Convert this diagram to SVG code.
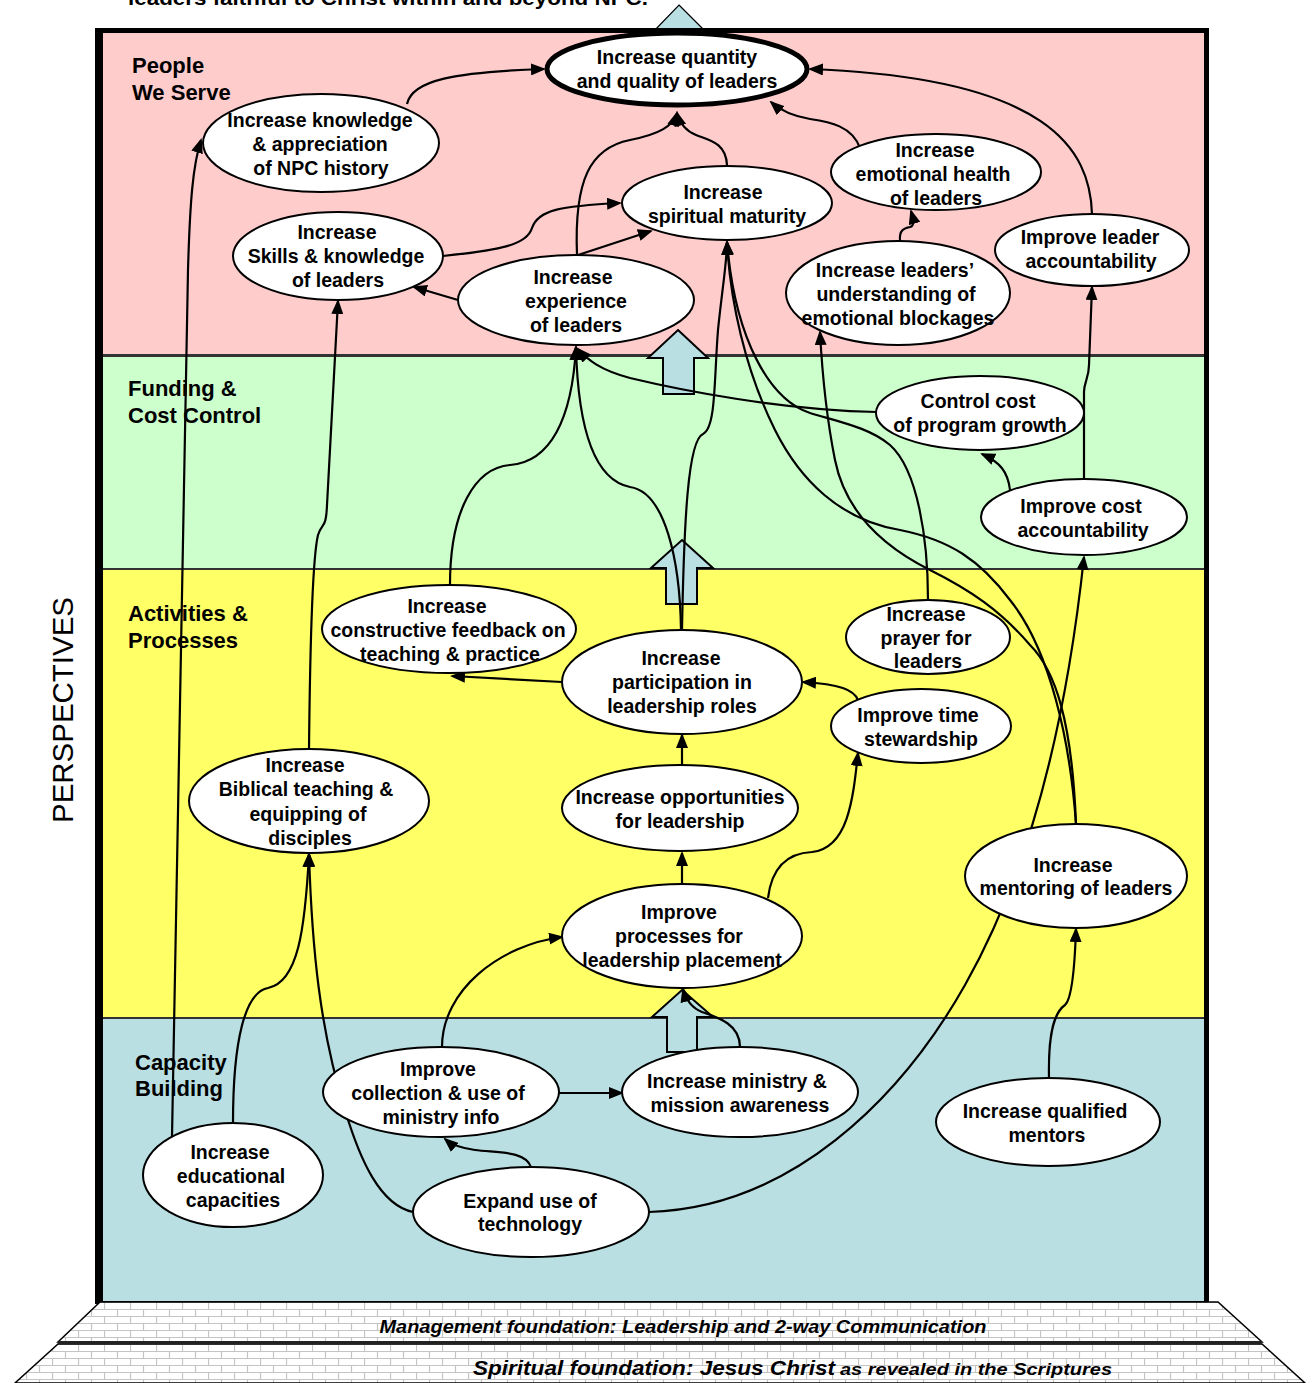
<svg xmlns="http://www.w3.org/2000/svg" width="1316" height="1383" viewBox="0 0 1316 1383">
<style>
.n ellipse{fill:#fff;stroke:#000;stroke-width:2}
.n text,.t{font-family:"Liberation Sans",Arial,sans-serif;font-weight:bold;font-size:19.5px;text-anchor:middle;fill:#000}
.lbl{font-family:"Liberation Sans",Arial,sans-serif;font-weight:bold;font-size:22px;fill:#000}
.c path{fill:none;stroke:#000;stroke-width:2.2}
.ba{fill:#B9DFE2;stroke:#000;stroke-width:2}
.fd{font-family:"Liberation Sans",Arial,sans-serif;font-weight:bold;font-style:italic;fill:#000}
</style>
<defs>
<marker id="ah" markerUnits="userSpaceOnUse" markerWidth="15" markerHeight="12" refX="13" refY="6" orient="auto" viewBox="0 0 15 12"><path d="M0,0 L15,6 L0,12 z" fill="#000"/></marker>
<pattern id="brick" patternUnits="userSpaceOnUse" width="26" height="14">
<rect width="26" height="14" fill="#fff"/>
<path d="M0,0.5 H26 M0,7.5 H26 M0.5,0 V7 M13.5,7 V14" stroke="#c4c4c4" stroke-width="1.2" fill="none"/>
</pattern>
</defs>
<rect width="1316" height="1383" fill="#fff"/>
<text class="t" x="128" y="5" text-anchor="start" style="text-anchor:start;font-size:20px" textLength="520" lengthAdjust="spacingAndGlyphs">leaders faithful to Christ within and beyond NPC.</text>
<polygon points="679,5 705,31 654,31" fill="#B9DFE2" stroke="#000" stroke-width="1.2"/>
<!-- frame and bands -->
<rect x="95" y="28" width="1114" height="1276" fill="#000"/>
<rect x="103" y="33" width="1101" height="321" fill="#FFCCCC"/>
<rect x="103" y="357" width="1101" height="211" fill="#CCFFCC"/>
<rect x="103" y="570" width="1101" height="447" fill="#FFFF66"/>
<rect x="103" y="1019" width="1101" height="282" fill="#B9DFE2"/>
<rect x="103" y="354" width="1101" height="3" fill="#333"/>
<rect x="103" y="568" width="1101" height="2" fill="#333"/>
<rect x="103" y="1017" width="1101" height="2" fill="#333"/>
<!-- foundation -->
<polygon points="100,1302 1218,1302 1262,1342 58,1342" fill="url(#brick)" stroke="#000" stroke-width="1.5"/>
<polygon points="58,1344 1262,1344 1305,1383 15,1383" fill="url(#brick)" stroke="#000" stroke-width="1.5"/>
<rect x="58" y="1341" width="1204" height="3" fill="#222"/>
<text class="fd" x="683" y="1333" text-anchor="middle" font-size="18" textLength="607" lengthAdjust="spacingAndGlyphs">Management foundation: Leadership and 2-way Communication</text>
<text class="fd" x="473" y="1375" font-size="21" textLength="362" lengthAdjust="spacingAndGlyphs">Spiritual foundation: Jesus Christ</text>
<text class="fd" x="840" y="1375" font-size="17" textLength="272" lengthAdjust="spacingAndGlyphs">as revealed in the Scriptures</text>
<!-- perspective labels -->
<text x="73" y="710" transform="rotate(-90 73 710)" font-family="Liberation Sans, Arial, sans-serif" font-size="29" text-anchor="middle" textLength="226" lengthAdjust="spacingAndGlyphs">PERSPECTIVES</text>
<text class="lbl" x="132" y="73">People</text>
<text class="lbl" x="132" y="100">We Serve</text>
<text class="lbl" x="128" y="396">Funding &amp;</text>
<text class="lbl" x="128" y="423">Cost Control</text>
<text class="lbl" x="128" y="621">Activities &amp;</text>
<text class="lbl" x="128" y="648">Processes</text>
<text class="lbl" x="135" y="1070">Capacity</text>
<text class="lbl" x="135" y="1096">Building</text>
<!-- block arrows -->
<polygon class="ba" points="678,330 708,358 694,358 694,394 663,394 663,358 648,358"/>
<polygon class="ba" points="682,540 713,568 697,568 697,604 666,604 666,568 651,568"/>
<polygon class="ba" points="682,990 713,1017 697,1017 697,1052 667,1052 667,1017 652,1017"/>
<!-- connectors -->
<g id="connectors" class="c">
<path marker-end="url(#ah)" d="M407,104 C412,80 455,72 544,69"/>
<path marker-end="url(#ah)" d="M577,255 C574,180 590,148 630,140 C660,134 673,126 677,113"/>
<path marker-end="url(#ah)" d="M727,165 C726,142 708,140 696,135 C686,131 680,124 677,113"/>
<path marker-end="url(#ah)" d="M860,148 C852,126 830,122 810,119 C792,116 780,110 771,102"/>
<path marker-end="url(#ah)" d="M1092,214 C1090,150 1050,78 810,69"/>
<path marker-end="url(#ah)" d="M443,256 C500,250 527,245 532,228 C538,210 560,206 620,203"/>
<path marker-end="url(#ah)" d="M578,255 L651,231"/>
<path marker-end="url(#ah)" d="M458,300 L414,287"/>
<path marker-end="url(#ah)" d="M900,241 C899,230 904,228 910,227 C915,226 913,218 911,211"/>
<path marker-end="url(#ah)" d="M172,1137 L188,270 C190,200 193,165 201,140"/>
<path marker-end="url(#ah)" d="M309,750 C310,650 312,560 318,535 C322,522 326,530 327,505 L338,301"/>
<path marker-end="url(#ah)" d="M450,585 C450,510 475,468 510,465 C550,462 572,420 576,347"/>
<path marker-end="url(#ah)" d="M681,630 C680,560 665,492 630,487 C595,480 578,430 576,347"/>
<path marker-end="url(#ah)" d="M682,630 C684,520 688,440 703,434 C716,428 714,380 718,330 C722,290 727,262 727,242"/>
<path marker-end="url(#ah)" d="M877,412 C780,410 680,390 630,378 C600,370 588,360 578,349"/>
<path marker-end="url(#ah)" d="M928,600 C928,540 918,470 890,445 C870,428 840,422 810,413 C770,400 735,340 727,242"/>
<path marker-end="url(#ah)" d="M1076,824 C1070,740 1050,650 1010,600 C980,560 950,540 900,530 C840,520 800,480 775,430 C745,370 730,300 727,242"/>
<path marker-end="url(#ah)" d="M1076,824 C1072,720 1055,670 1030,645 C1000,610 970,590 930,570 C880,545 845,510 835,460 C825,410 822,370 820,332"/>
<path marker-end="url(#ah)" d="M1084,480 L1084,392 C1084,382 1089,378 1089,365 L1092,287"/>
<path marker-end="url(#ah)" d="M1010,490 C1008,472 1000,462 982,454"/>
<path marker-end="url(#ah)" d="M649,1212 C790,1208 900,1100 965,985 C1010,905 1060,780 1084,557"/>
<path marker-end="url(#ah)" d="M1049,1078 C1048,1030 1055,1012 1065,1005 C1073,998 1075,960 1076,929"/>
<path marker-end="url(#ah)" d="M682,884 L682,853"/>
<path marker-end="url(#ah)" d="M682,765 L682,735"/>
<path marker-end="url(#ah)" d="M768,898 C772,865 790,853 812,852 C848,848 853,800 858,753"/>
<path marker-end="url(#ah)" d="M858,700 C854,690 840,684 803,682"/>
<path marker-end="url(#ah)" d="M562,682 L452,676"/>
<path marker-end="url(#ah)" d="M442,1047 C442,990 500,945 562,937"/>
<path marker-end="url(#ah)" d="M559,1093 L622,1093"/>
<path marker-end="url(#ah)" d="M740,1047 C740,1025 720,1018 702,1012 C692,1008 686,1000 683,989"/>
<path marker-end="url(#ah)" d="M531,1167 C525,1150 495,1153 475,1150 C460,1148 452,1145 445,1139"/>
<path marker-end="url(#ah)" d="M413,1212 C380,1205 360,1160 345,1110 C320,1030 312,950 309,854"/>
<path marker-end="url(#ah)" d="M233,1123 C233,1040 245,992 268,988 C298,982 305,930 309,854"/>
</g>
<!-- nodes -->
<g id="n-quantity" class="n"><ellipse cx="677" cy="69" rx="130" ry="36" style="stroke-width:5"/><text x="677" y="64">Increase quantity</text><text x="677" y="88">and quality of leaders</text></g>
<g id="n-history" class="n"><ellipse cx="321" cy="143" rx="118" ry="49"/><text x="320" y="127">Increase knowledge</text><text x="320" y="151">&amp; appreciation</text><text x="321" y="175">of NPC history</text></g>
<g id="n-skills" class="n"><ellipse cx="338" cy="256" rx="105" ry="44"/><text x="337" y="239">Increase</text><text x="336" y="263">Skills &amp; knowledge</text><text x="338" y="287">of leaders</text></g>
<g id="n-spiritual" class="n"><ellipse cx="727" cy="203" rx="105" ry="37"/><text x="723" y="199">Increase</text><text x="727" y="223">spiritual maturity</text></g>
<g id="n-experience" class="n"><ellipse cx="576" cy="300" rx="118" ry="45"/><text x="573" y="284">Increase</text><text x="576" y="308">experience</text><text x="576" y="332">of leaders</text></g>
<g id="n-emotional" class="n"><ellipse cx="936" cy="172" rx="105" ry="38"/><text x="935" y="157">Increase</text><text x="933" y="181">emotional health</text><text x="936" y="205">of leaders</text></g>
<g id="n-leaderacc" class="n"><ellipse cx="1092" cy="250" rx="97" ry="36"/><text x="1090" y="244">Improve leader</text><text x="1091" y="268">accountability</text></g>
<g id="n-blockages" class="n"><ellipse cx="898" cy="293" rx="112" ry="52"/><text x="895" y="277">Increase leaders’</text><text x="896" y="301">understanding of</text><text x="898" y="325">emotional blockages</text></g>
<g id="n-controlcost" class="n"><ellipse cx="980" cy="413" rx="104" ry="37"/><text x="978" y="408">Control cost</text><text x="980" y="432">of program growth</text></g>
<g id="n-costacc" class="n"><ellipse cx="1084" cy="517" rx="103" ry="38"/><text x="1081" y="513">Improve cost</text><text x="1083" y="537">accountability</text></g>
<g id="n-feedback" class="n"><ellipse cx="449" cy="629" rx="127" ry="44"/><text x="447" y="613">Increase</text><text x="448" y="637">constructive feedback on</text><text x="450" y="661">teaching &amp; practice</text></g>
<g id="n-prayer" class="n"><ellipse cx="928" cy="637" rx="82" ry="37"/><text x="926" y="621">Increase</text><text x="926" y="645">prayer for</text><text x="928" y="668">leaders</text></g>
<g id="n-participation" class="n"><ellipse cx="682" cy="682" rx="120" ry="52"/><text x="681" y="665">Increase</text><text x="682" y="689">participation in</text><text x="682" y="713">leadership roles</text></g>
<g id="n-time" class="n"><ellipse cx="921" cy="726" rx="90" ry="37"/><text x="918" y="722">Improve time</text><text x="921" y="746">stewardship</text></g>
<g id="n-biblical" class="n"><ellipse cx="309" cy="801" rx="120" ry="52"/><text x="305" y="772">Increase</text><text x="306" y="796">Biblical teaching &amp;</text><text x="308" y="821">equipping of</text><text x="310" y="845">disciples</text></g>
<g id="n-opportunities" class="n"><ellipse cx="680" cy="808" rx="118" ry="43"/><text x="680" y="804">Increase opportunities</text><text x="680" y="828">for leadership</text></g>
<g id="n-mentoring" class="n"><ellipse cx="1076" cy="876" rx="111" ry="52"/><text x="1073" y="872">Increase</text><text x="1076" y="895">mentoring of leaders</text></g>
<g id="n-processes" class="n"><ellipse cx="682" cy="936" rx="120" ry="52"/><text x="679" y="919">Improve</text><text x="679" y="943">processes for</text><text x="682" y="967">leadership placement</text></g>
<g id="n-collection" class="n"><ellipse cx="441" cy="1092" rx="118" ry="45"/><text x="438" y="1076">Improve</text><text x="438" y="1100">collection &amp; use of</text><text x="441" y="1124">ministry info</text></g>
<g id="n-awareness" class="n"><ellipse cx="740" cy="1092" rx="118" ry="45"/><text x="737" y="1088">Increase ministry &amp;</text><text x="740" y="1112">mission awareness</text></g>
<g id="n-mentors" class="n"><ellipse cx="1048" cy="1122" rx="112" ry="44"/><text x="1045" y="1118">Increase qualified</text><text x="1047" y="1142">mentors</text></g>
<g id="n-educational" class="n"><ellipse cx="233" cy="1175" rx="90" ry="52"/><text x="230" y="1159">Increase</text><text x="231" y="1183">educational</text><text x="233" y="1207">capacities</text></g>
<g id="n-technology" class="n"><ellipse cx="531" cy="1212" rx="118" ry="45"/><text x="530" y="1208">Expand use of</text><text x="530" y="1231">technology</text></g>
</svg>
